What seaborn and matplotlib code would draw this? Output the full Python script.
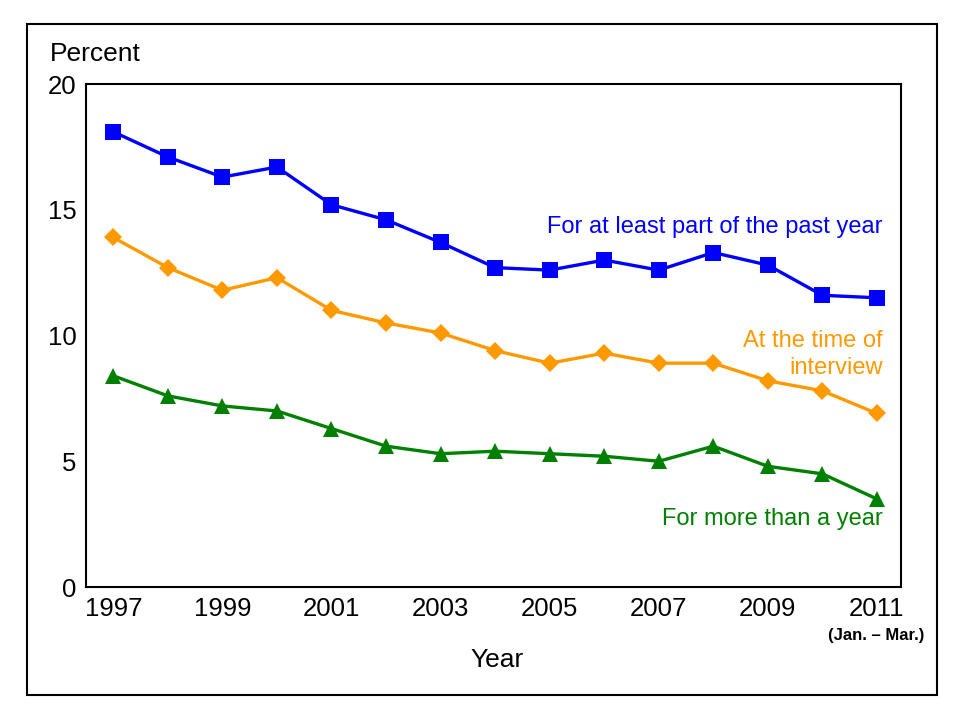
import matplotlib
matplotlib.use("Agg")
import matplotlib.pyplot as plt
import seaborn as sns
import pandas as pd
from matplotlib.patches import Rectangle

years = list(range(1997, 2012))
part_year = [18.1, 17.1, 16.3, 16.7, 15.2, 14.6, 13.7, 12.7, 12.6, 13.0, 12.6, 13.3, 12.8, 11.6, 11.5]
at_interview = [13.9, 12.7, 11.8, 12.3, 11.0, 10.5, 10.1, 9.4, 8.9, 9.3, 8.9, 8.9, 8.2, 7.8, 6.9]
more_than_year = [8.4, 7.6, 7.2, 7.0, 6.3, 5.6, 5.3, 5.4, 5.3, 5.2, 5.0, 5.6, 4.8, 4.5, 3.5]
series_names = ["For at least part of the past year", "At the time of\ninterview", "For more than a year"]
xtick_labels = ["1997", "1999", "2001", "2003", "2005", "2007", "2009", "2011"]
yticks = [0, 5, 10, 15, 20]

sns.set_theme(style="white")
plt.rcParams['font.family'] = ['Liberation Sans', 'DejaVu Sans']
plt.rcParams['text.color'] = 'black'
plt.rcParams['axes.labelcolor'] = 'black'
plt.rcParams['xtick.color'] = 'black'
plt.rcParams['ytick.color'] = 'black'

df = pd.DataFrame({
    "Year": years * 3,
    "Percent": part_year + at_interview + more_than_year,
    "Series": [series_names[0]] * 15 + [series_names[1]] * 15 + [series_names[2]] * 15,
})

colors = {series_names[0]: "#0000FF", series_names[1]: "#FF9900", series_names[2]: "#008000"}
markers = {series_names[0]: "s", series_names[1]: "D", series_names[2]: "^"}
msizes = {series_names[0]: 11, series_names[1]: 9, series_names[2]: 11}

fig = plt.figure(figsize=(9.6, 7.2), dpi=100)
ax = fig.add_axes([0.0896, 0.1847, 0.8489, 0.6986])

for name in series_names:
    sub = df[df["Series"] == name]
    sns.lineplot(data=sub, x="Year", y="Percent", ax=ax, color=colors[name],
                 marker=markers[name], markersize=msizes[name], markeredgewidth=0,
                 linewidth=2.4, legend=False)

ax.set_xlim(1996.5, 2011.44)
ax.set_ylim(0, 20)
ax.set_yticks(yticks)
ax.set_yticklabels([str(v) for v in yticks], fontsize=18.5)
ax.set_xticks(years)
ax.set_xticklabels([str(y) if str(y) in xtick_labels else "" for y in years], fontsize=18.5)
ax.tick_params(axis="both", direction="in", length=7, width=1.2, colors="black")
ax.tick_params(axis="x", pad=7)
ax.tick_params(axis="y", pad=7)
for s in ["left", "bottom", "top", "right"]:
    ax.spines[s].set_color("black")
    ax.spines[s].set_linewidth(1.5)
ax.set_xlabel("")
ax.set_ylabel("")

fig.text(0.099, 0.925, "Percent", fontsize=19, ha="center", va="center")
fig.text(0.518, 0.083, "Year", fontsize=19, ha="center", va="center")
fig.text(0.913, 0.118, "(Jan. \u2013 Mar.)", fontsize=12, fontweight="bold",
         ha="center", va="center")

ax.text(2011.1, 14.3, series_names[0], color="#0000FF", fontsize=17, ha="right", va="center")
ax.text(2011.1, 9.26, series_names[1], color="#FF9900", fontsize=17, ha="right", va="center",
        linespacing=1.3)
ax.text(2011.1, 2.7, series_names[2], color="#008000", fontsize=17, ha="right", va="center")

fig.patches.append(Rectangle((27 / 960, 1 - 695 / 720), 910 / 960, 671 / 720,
                             transform=fig.transFigure, fill=False, edgecolor="black",
                             linewidth=1.5))

fig.savefig("out.png", dpi=100)
